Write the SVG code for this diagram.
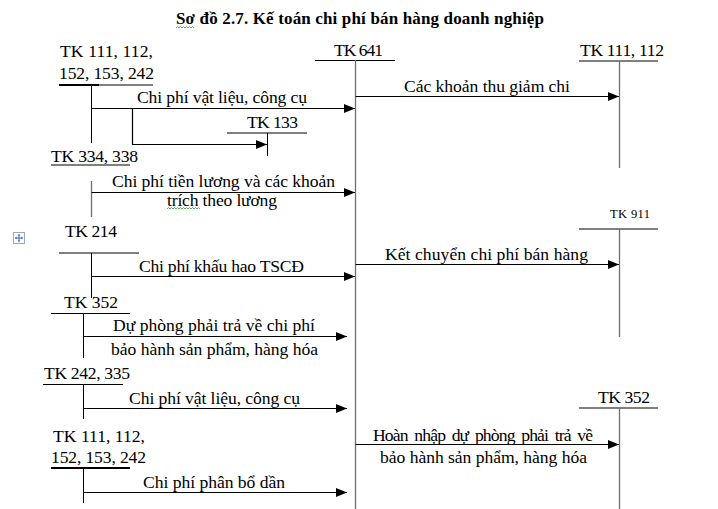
<svg xmlns="http://www.w3.org/2000/svg" width="718" height="509" viewBox="0 0 718 509">
<style>
text{font-family:"Liberation Serif","Times New Roman",serif;font-size:17.6px;fill:#000}
.t{font-weight:bold;font-size:17px}
.sm{font-size:12.5px}
.ln{stroke:#000;stroke-width:1;fill:none}
.gl{stroke:#6e6e6e;stroke-width:1.3;fill:none}
.ar{stroke:#000;stroke-width:1.2;fill:none;marker-end:url(#ah)}
.sq{stroke:#3a9a3a;stroke-width:0.8;fill:none}
</style>
<defs>
<marker id="ah" markerUnits="userSpaceOnUse" markerWidth="12" markerHeight="10" refX="11" refY="4.5" orient="auto">
<path d="M0,0 L11,4.5 L0,9 z" fill="#000"/>
</marker>
</defs>
<rect width="718" height="509" fill="#fff"/>
<text class="t" x="176" y="24" textLength="368">Sơ đồ 2.7. Kế toán chi phí bán hàng doanh nghiệp</text>
<path class="sq" d="M176,28 l1.5,-1.5 l1.5,1.5 l1.5,-1.5 l1.5,1.5 l1.5,-1.5 l1.5,1.5 l1.5,-1.5 l1.5,1.5 l1.5,-1.5 l1.5,1.5 l1.5,-1.5 l1.5,1.5"/>

<g id="tk641">
<text x="334" y="56" textLength="49">TK 641</text>
<line class="ln" x1="315" y1="60.5" x2="395" y2="60.5"/>
<line class="gl" x1="355.5" y1="60" x2="355.5" y2="509"/>
</g>

<g id="tk111r">
<text x="580" y="56" textLength="84">TK 111, 112</text>
<line class="ln" x1="579" y1="61" x2="658" y2="61"/>
<line class="gl" x1="619.5" y1="61" x2="619.5" y2="168"/>
</g>

<g id="tk911">
<text class="sm" x="610" y="218" textLength="40">TK 911</text>
<line class="ln" x1="579" y1="229" x2="658" y2="229"/>
<line class="gl" x1="619.5" y1="229" x2="619.5" y2="337"/>
</g>

<g id="tk352r">
<text x="598" y="403" textLength="52">TK 352</text>
<line class="ln" x1="579" y1="408" x2="658" y2="408"/>
<line class="gl" x1="619.5" y1="408" x2="619.5" y2="509"/>
</g>

<g id="tk111a">
<text x="60" y="57" textLength="93">TK 111, 112,</text>
<text x="59" y="79" textLength="95">152, 153, 242</text>
<line stroke="#000" stroke-width="2" x1="59" y1="85" x2="99" y2="85"/>
<line class="ln" x1="99" y1="85" x2="153" y2="85"/>
<line class="ln" x1="91.5" y1="85" x2="91.5" y2="143"/>
</g>

<g id="tk133">
<text x="247" y="128" textLength="51">TK 133</text>
<line class="ln" x1="227" y1="133" x2="307" y2="133"/>
<line class="ln" x1="267.5" y1="133" x2="267.5" y2="156"/>
</g>

<g id="tk334">
<text x="51" y="162" textLength="87">TK 334, 338</text>
<line class="ln" x1="51" y1="165" x2="130" y2="165"/>
<line class="gl" x1="91.5" y1="181" x2="91.5" y2="217"/>
</g>

<g id="tk214">
<text x="65" y="237" textLength="52">TK 214</text>
<line class="ln" x1="59" y1="253" x2="139" y2="253"/>
<line class="ln" x1="91.5" y1="253" x2="91.5" y2="298"/>
</g>

<g id="tk352l">
<text x="64" y="308" textLength="54">TK 352</text>
<line class="ln" x1="51" y1="313.5" x2="130" y2="313.5"/>
<line class="ln" x1="83.5" y1="313" x2="83.5" y2="358"/>
</g>

<g id="tk242">
<text x="44" y="379" textLength="86">TK 242, 335</text>
<line class="ln" x1="43" y1="384.5" x2="123" y2="384.5"/>
<line class="ln" x1="83.5" y1="384" x2="83.5" y2="419"/>
</g>

<g id="tk111b">
<text x="53" y="442" textLength="92">TK 111, 112,</text>
<text x="51" y="463" textLength="95">152, 153, 242</text>
<line stroke="#000" stroke-width="2" x1="51" y1="468" x2="130" y2="468"/>
<line class="ln" x1="83.5" y1="468" x2="83.5" y2="503"/>
</g>

<g id="connectors">
<path class="ar" d="M91.5,108.5 H355"/>
<text x="137" y="103" textLength="170">Chi phí vật liệu, công cụ</text>
<path class="ar" d="M132.5,108.5 V144.5 H267"/>
<path class="ar" d="M355.5,96.5 H619"/>
<text x="404" y="92" textLength="166">Các khoản thu giảm chi</text>
<path class="ar" d="M91.5,192.5 H355"/>
<text x="112" y="187" textLength="223">Chi phí tiền lương và các khoản</text>
<text x="167" y="206" textLength="110">trích theo lương</text>
<path class="sq" d="M167,209 l1.5,-1.5 l1.5,1.5 l1.5,-1.5 l1.5,1.5 l1.5,-1.5 l1.5,1.5 l1.5,-1.5 l1.5,1.5 l1.5,-1.5 l1.5,1.5 l1.5,-1.5 l1.5,1.5 l1.5,-1.5 l1.5,1.5 l1.5,-1.5 l1.5,1.5 l1.5,-1.5 l1.5,1.5 l1.5,-1.5 l1.5,1.5 l1.5,-1.5 l1.5,1.5"/>
<path class="ar" d="M91.5,276.5 H355"/>
<text x="139" y="272" textLength="165">Chi phí khấu hao TSCĐ</text>
<path class="ar" d="M355.5,264.5 H619"/>
<text x="385" y="260" textLength="203">Kết chuyển chi phí bán hàng</text>
<path class="ar" d="M83.5,336.5 H347"/>
<text x="113" y="331" textLength="202">Dự phòng phải trả về chi phí</text>
<text x="111" y="355" textLength="207">bảo hành sản phẩm, hàng hóa</text>
<path class="ar" d="M83.5,408.5 H347"/>
<text x="129" y="404" textLength="171">Chi phí vật liệu, công cụ</text>
<path class="ar" d="M355.5,444.5 H619"/>
<text x="373" y="441" style="word-spacing:3px" textLength="220">Hoàn nhập dự phòng phải trả về</text>
<text x="380" y="463" textLength="207">bảo hành sản phẩm, hàng hóa</text>
<path class="ar" d="M83.5,492.5 H347"/>
<text x="143" y="488" textLength="142">Chi phí phân bổ dần</text>
</g>

<g id="movehandle">
<rect x="13.5" y="232.5" width="11" height="11" fill="#fff" stroke="#9aa8c4"/>
<path d="M19,234.5 V241.5 M15.5,238 H22.5" stroke="#3c64b4" stroke-width="1"/>
<path d="M19,234 l-1.5,1.5 h3 z M19,242 l-1.5,-1.5 h3 z M15,238 l1.5,-1.5 v3 z M23,238 l-1.5,-1.5 v3 z" fill="#3c64b4"/>
</g>
</svg>
